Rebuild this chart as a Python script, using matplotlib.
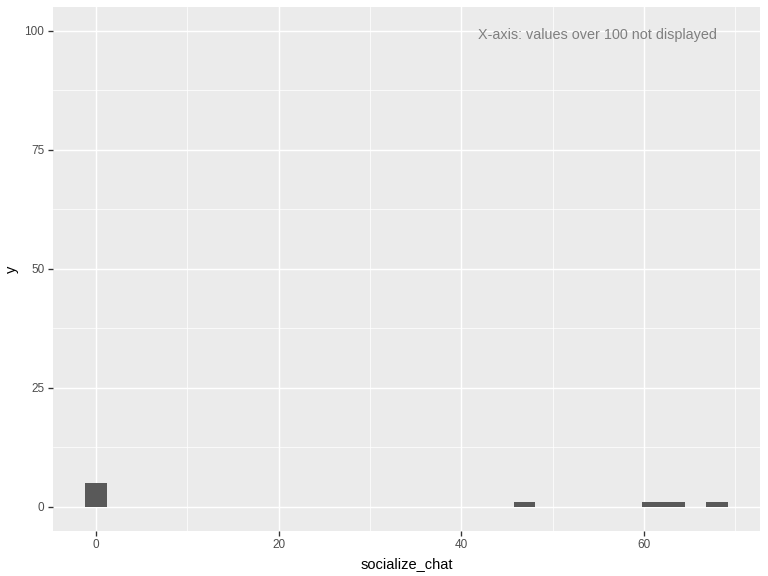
import numpy as np
import matplotlib.pyplot as plt

# values of socialize_chat (<= 100 only)
socialize_chat = [0, 0, 0, 0, 0, 47, 61, 63, 68]
n_bins = 30
x_ticks = [0, 20, 40, 60]
y_ticks = [0, 25, 50, 75, 100]
note = "X-axis: values over 100 not displayed"

plt.rcParams['font.family'] = ['Liberation Sans', 'DejaVu Sans']

fig = plt.figure(figsize=(8, 6), dpi=96)
ax = fig.add_axes([53 / 768, 1 - 530.7 / 576, (760 - 53) / 768, (530.7 - 7) / 576])

# ggplot-style binning: width = range / (bins - 1), bins centred on min
lo, hi = min(socialize_chat), max(socialize_chat)
width = (hi - lo) / (n_bins - 1)
edges = lo - width / 2 + width * np.arange(n_bins + 1)
ax.hist(socialize_chat, bins=edges, color='#595959', linewidth=0, zorder=3)

ax.set_facecolor('#EBEBEB')
for s in ax.spines.values():
    s.set_visible(False)

span = edges[-1] - edges[0]
ax.set_xlim(edges[0] - 0.05 * span, edges[-1] + 0.05 * span)
ax.set_ylim(-5, 105)

ax.set_xticks(x_ticks)
ax.set_yticks(y_ticks)
ax.set_xticks([10, 30, 50, 70], minor=True)
ax.set_yticks([12.5, 37.5, 62.5, 87.5], minor=True)
ax.grid(which='major', color='white', linewidth=1.1, zorder=0)
ax.grid(which='minor', color='white', linewidth=0.55, zorder=0)
ax.set_axisbelow(True)
ax.tick_params(which='major', length=3.5, width=1.0, color='#333333',
               labelcolor='#4D4D4D', labelsize=8.8, pad=3)
ax.tick_params(which='minor', length=0)

ax.set_xlabel('socialize_chat', fontsize=11, labelpad=4)
ax.set_ylabel('y', fontsize=11, labelpad=4)

ax.text(hi, 100, note, ha='right', va='center_baseline', color='#808080',
        fontsize=10.8, zorder=4, transform=ax.transData)
ax.texts[-1].set_y(99.5)

fig.savefig('out.png', dpi=96)
